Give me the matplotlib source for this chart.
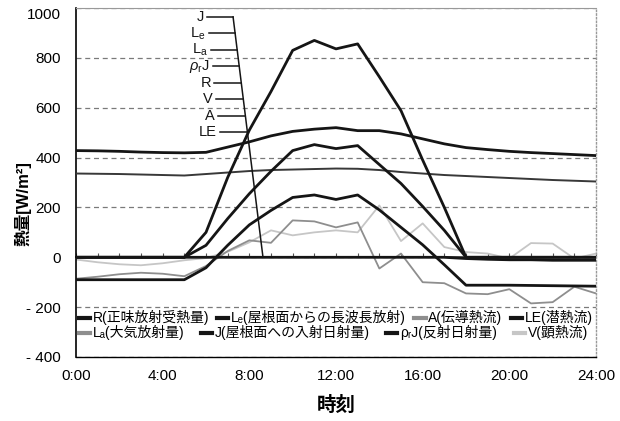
import numpy as np
import matplotlib
matplotlib.use('Agg')
import matplotlib.pyplot as plt
from matplotlib.lines import Line2D

plt.rcParams['font.family'] = ['Liberation Sans', 'Noto Sans CJK JP', 'DejaVu Sans']
plt.rcParams['mathtext.fontset'] = 'custom'
plt.rcParams['mathtext.rm'] = 'Liberation Sans'
plt.rcParams['mathtext.it'] = 'Liberation Sans:italic'

###########################
### data (hourly, 0..24 h)
###########################
hours = np.arange(25)
R    = [-90, -90, -90, -90, -90, -90, -42, 48, 130, 188, 240, 250, 232, 250, 190, 120, 50, -30, -112, -112, -112, -113, -114, -115, -116]
Le   = [428, 427, 425, 422, 420, 419, 421, 442, 463, 487, 505, 514, 520, 508, 508, 495, 475, 455, 440, 432, 425, 420, 416, 412, 408]
La   = [336, 335, 334, 332, 330, 328, 334, 340, 346, 350, 352, 354, 356, 355, 350, 342, 336, 330, 326, 322, 318, 314, 310, 307, 304]
J    = [0, 0, 0, 0, 0, 0, 100, 320, 510, 665, 830, 870, 836, 856, 724, 588, 390, 200, 0, 0, 0, 0, 0, 0, 0]
rhoJ = [0, 0, 0, 0, 0, 0, 48, 155, 255, 345, 428, 452, 436, 448, 372, 296, 204, 108, 0, 0, 0, 0, 0, 0, 0]
A    = [-86, -78, -68, -62, -66, -76, -35, 25, 68, 58, 148, 144, 120, 140, -45, 15, -100, -104, -145, -148, -128, -185, -180, -118, -145]
V    = [-9, -20, -28, -32, -24, -12, -3, 22, 60, 108, 88, 100, 108, 100, 208, 65, 136, 41, 21, 15, -5, 57, 55, -5, 15]
LE   = [0]*18 + [-5, -8, -10, -10, -12, -12, -12]

time_ticks  = [0, 4, 8, 12, 16, 20, 24]
time_labels = ['0:00', '4:00', '8:00', '12:00', '16:00', '20:00', '24:00']
y_ticks  = [-400, -200, 0, 200, 400, 600, 800, 1000]
y_labels = ['- 400', '- 200', '0', '200', '400', '600', '800', '1000']

legend_row1 = ['R(正味放射受熱量)', 'Lₑ(屋根面からの長波長放射)', 'A(伝導熱流)', 'LE(潜熱流)']
legend_row2 = ['Lₐ(大気放射量)', 'J(屋根面への入射日射量)', 'ρᵣJ(反射日射量)', 'V(顕熱流)']
side_labels = ['J', r'$\mathrm{L_e}$', r'$\mathrm{L_a}$', r'$\rho_\mathrm{r}\mathrm{J}$', 'R', 'V', 'A', 'LE']

##############
### plotting
##############
black = '#151515'
c_A = '#8e8e8e'
c_V = '#c6c6c6'
c_La = '#383838'

fig = plt.figure(figsize=(6.2, 4.21), dpi=100)
ax = fig.add_axes([76/620, 1-357/421, 520/620, 349/421])

# zero line with hourly ticks
sec = ax.secondary_xaxis(0, transform=ax.transData)
sec.set_xticks(hours)
sec.tick_params(direction='in', length=3, width=0.8, color='#555555', labelbottom=False)
sec.spines['bottom'].set_color('#555555')
sec.spines['bottom'].set_linewidth(1.4)

ax.plot(hours, V, color=c_V, lw=1.3, zorder=2)
ax.plot(hours, A, color=c_A, lw=1.3, zorder=2)
ax.plot(hours, La, color=c_La, lw=1.4, zorder=3)
ax.plot(hours, Le, color=black, lw=2.0, zorder=3)
ax.plot(hours, R, color=black, lw=2.0, zorder=3)
ax.plot(hours, J, color=black, lw=2.0, zorder=3)
ax.plot(hours, rhoJ, color=black, lw=2.0, zorder=3)
ax.plot(hours, LE, color=black, lw=2.0, zorder=3)

# label list with leaders joined to a slanted line
bracket_x = [7.25, 8.63]
bracket_y = [964, 0]
ax.plot(bracket_x, bracket_y, color=black, lw=1.1, zorder=4)
for i, name in enumerate(side_labels):
    ly = 964 - 66*i
    x0 = 6.05 + 0.085*i
    x1 = bracket_x[0] + (964 - ly)/964.*(bracket_x[1]-bracket_x[0])
    ax.plot([x0, x1], [ly, ly], color=black, lw=1.1, zorder=4)
    ax.text(x0-0.15, ly, name, ha='right', va='center', fontsize=10.5, color=black)

ax.set_xlim(0, 24)
ax.set_ylim(-400, 1000)
ax.set_xticks(time_ticks)
ax.set_xticklabels(time_labels)
ax.set_yticks(y_ticks)
ax.set_yticklabels(y_labels)
ax.tick_params(axis='both', length=0, labelsize=11)
ax.tick_params(axis='y', pad=11)
ax.tick_params(axis='x', pad=9)
ax.get_yticklabels()[-1].set_va('top')

ax.yaxis.grid(True, linestyle=(0, (4, 3)), color='#7a7a7a', lw=0.9)
ax.set_axisbelow(True)

ax.spines['left'].set_color('black')
ax.spines['left'].set_linewidth(1.2)
ax.spines['bottom'].set_color('black')
ax.spines['bottom'].set_linewidth(1.0)
ax.spines['top'].set_color('#999999')
ax.spines['top'].set_linewidth(0.8)
ax.spines['right'].set_color('#999999')
ax.spines['right'].set_linestyle(':')
ax.spines['right'].set_linewidth(1.0)

ax.set_ylabel('熱量[W/m²]', fontsize=12, fontweight='bold')
ax.yaxis.set_label_coords(-0.085, 0.44)
ax.set_xlabel('時刻', fontsize=14, fontweight='bold')
ax.xaxis.set_label_coords(0.5, -0.112)

# two-row legend inside the plot
h1 = [Line2D([], [], color=c, lw=3) for c in [black, black, c_A, black]]
h2 = [Line2D([], [], color=c, lw=3) for c in [c_A, black, black, c_V]]
leg_kw = dict(ncol=4, loc='center left', frameon=False, fontsize=10, handlelength=0.8,
              handletextpad=0.2, borderpad=0, borderaxespad=0)
leg1 = ax.legend(h1, legend_row1, bbox_to_anchor=(0.005, 0.112), columnspacing=0.6, **leg_kw)
ax.add_artist(leg1)
ax.legend(h2, legend_row2, bbox_to_anchor=(0.005, 0.069), columnspacing=1.2, **leg_kw)

plt.savefig('out.png', dpi=100)
